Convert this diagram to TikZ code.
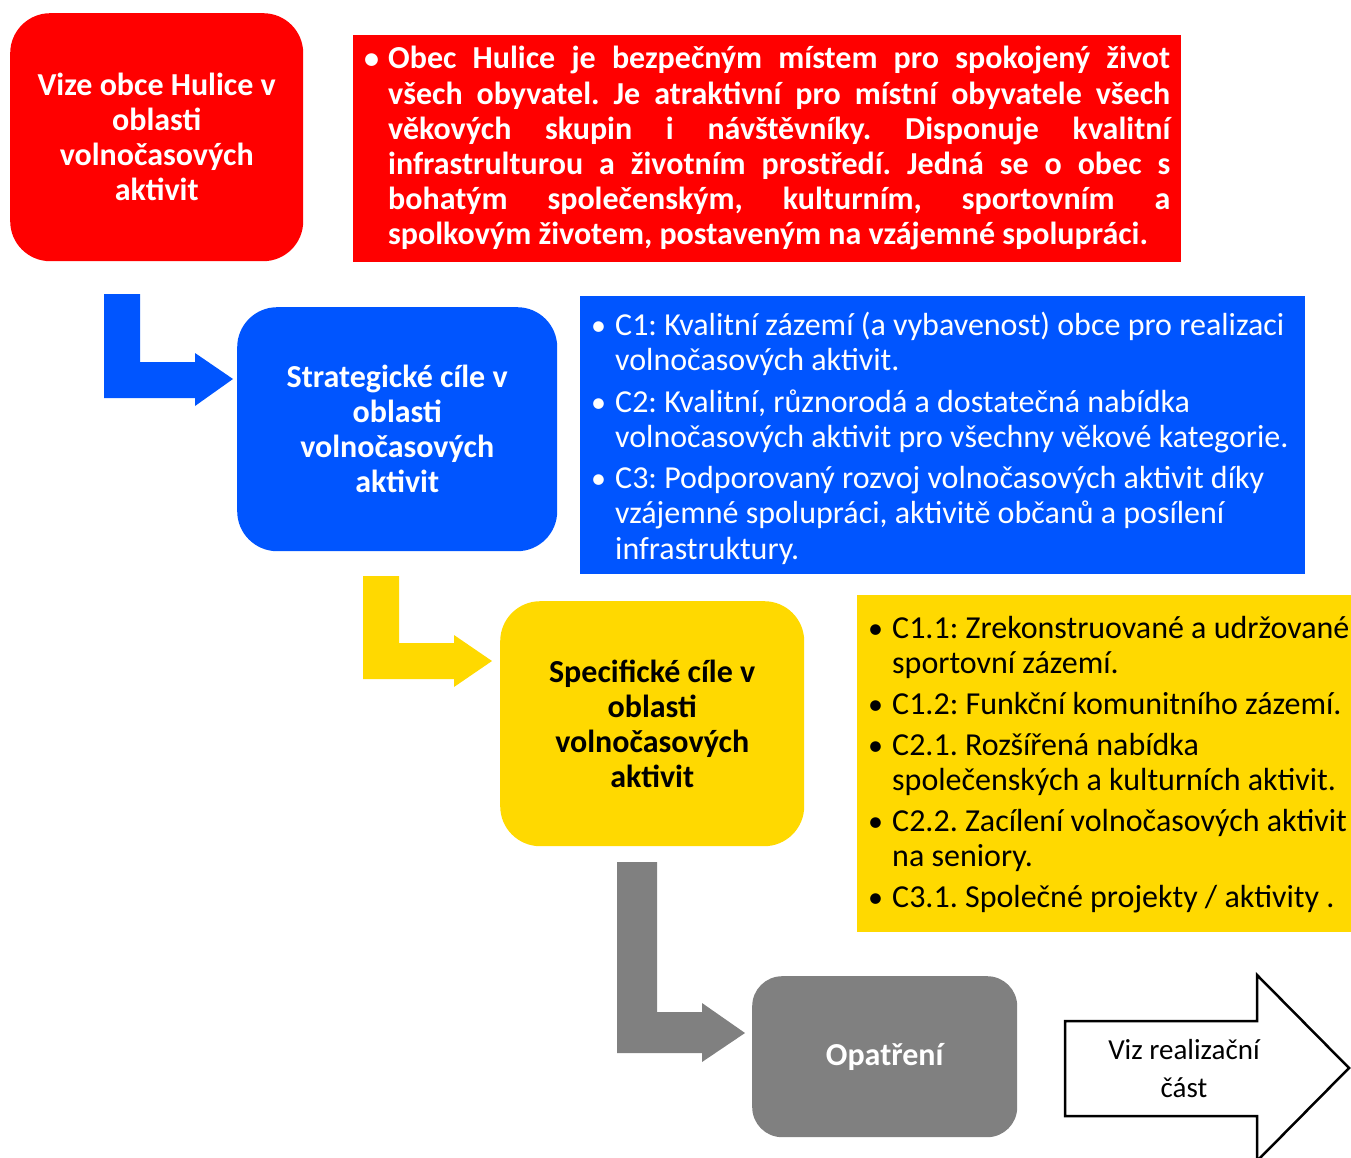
\documentclass[tikz,border=0pt]{standalone}
\usepackage{fontspec}
\setmainfont{Carlito}
\frenchspacing
\definecolor{vred}{RGB}{255,0,0}
\definecolor{vblue}{RGB}{0,85,255}
\definecolor{vyellow}{RGB}{255,217,0}
\definecolor{vgray}{RGB}{128,128,128}
\tikzset{
  rbox/.style={rounded corners=40pt, draw=none, anchor=north west, inner sep=0pt, align=center,
    font=\fontsize{32}{35}\selectfont\bfseries},
  flatbox/.style={draw=none, anchor=north west, inner sep=0pt},
  listtext/.style={anchor=base west, inner sep=0pt, font=\fontsize{32}{35.5}\selectfont},
  bulletmark/.style={anchor=base west, inner sep=0pt, font=\fontsize{30}{35}\selectfont},
  bentarrow/.style={draw=none}
}
\begin{document}
\begin{tikzpicture}[x=1pt,y=-1pt]
\useasboundingbox (0,0) rectangle (1351,1158);

% --- Vision row
\node[rbox, fill=vred, text=white, minimum width=293pt, minimum height=248pt] (vize) at (10,13)
  {Vize obce Hulice v\\oblasti\\volnočasových\\aktivit};
\node[flatbox, fill=vred, minimum width=828pt, minimum height=227pt] (vizebox) at (353,35) {};
\node[bulletmark, text=white, font=\fontsize{30}{35}\selectfont\bfseries] (vb) at (364,69) {•};
\node[anchor=base west, inner sep=0pt, text=white, font=\fontsize{32}{35.2}\selectfont\bfseries] (vizetext) at (388,69)
  {\parbox[t]{782pt}{%
   \makebox[782pt][s]{Obec Hulice je bezpečným místem pro spokojený život}\\
   \makebox[782pt][s]{všech obyvatel. Je atraktivní pro místní obyvatele všech}\\
   \makebox[782pt][s]{věkových skupin i návštěvníky. Disponuje kvalitní}\\
   \makebox[782pt][s]{infrastrulturou a životním prostředí. Jedná se o obec s}\\
   \makebox[782pt][s]{bohatým společenským, kulturním, sportovním a}\\
   spolkovým životem, postaveným na vzájemné spolupráci.}};

% --- Strategic row
\fill[vblue] (104,294) -- (140,294) -- (140,362) -- (195,362) -- (195,353) -- (233,379)
  -- (195,406) -- (195,398) -- (104,398) -- cycle;
\node[rbox, fill=vblue, text=white, minimum width=320pt, minimum height=244pt] (strat) at (237,307)
  {Strategické cíle v\\oblasti\\volnočasových\\aktivit};
\node[flatbox, fill=vblue, minimum width=725pt, minimum height=278pt] (stratbox) at (580,296) {};
\node[bulletmark, text=white] (sb1) at (591,335) {•};
\node[listtext, text=white] (s1) at (615,335)
  {\parbox[t]{700pt}{C1: Kvalitní zázemí (a vybavenost) obce pro realizaci\\volnočasových aktivit.}};
\node[bulletmark, text=white] (sb2) at (591,412) {•};
\node[listtext, text=white] (s2) at (615,412)
  {\parbox[t]{700pt}{C2: Kvalitní, různorodá a dostatečná nabídka\\volnočasových aktivit pro všechny věkové kategorie.}};
\node[bulletmark, text=white] (sb3) at (591,488) {•};
\node[listtext, text=white] (s3) at (615,488)
  {\parbox[t]{700pt}{C3: Podporovaný rozvoj volnočasových aktivit díky\\vzájemné spolupráci, aktivitě občanů a posílení\\infrastruktury.}};

% --- Specific row
\fill[vyellow] (363,576) -- (399,576) -- (399,643) -- (454,643) -- (454,635) -- (492,661)
  -- (454,687) -- (454,679) -- (363,679) -- cycle;
\node[rbox, fill=vyellow, text=black, minimum width=304pt, minimum height=245pt] (spec) at (500,601)
  {Specifické cíle v\\oblasti\\volnočasových\\aktivit};
\node[flatbox, fill=vyellow, minimum width=494pt, minimum height=337pt] (specbox) at (857,595) {};
\node[bulletmark] (yb1) at (868,638) {•};
\node[listtext] (y1) at (892,638)
  {\parbox[t]{470pt}{C1.1: Zrekonstruované a udržované\\sportovní zázemí.}};
\node[bulletmark] (yb2) at (868,714) {•};
\node[listtext] (y2) at (892,714) {C1.2: Funkční komunitního zázemí.};
\node[bulletmark] (yb3) at (868,755) {•};
\node[listtext] (y3) at (892,755)
  {\parbox[t]{470pt}{C2.1. Rozšířená nabídka\\společenských a kulturních aktivit.}};
\node[bulletmark] (yb4) at (868,831) {•};
\node[listtext] (y4) at (892,831)
  {\parbox[t]{470pt}{C2.2. Zacílení volnočasových aktivit\\na seniory.}};
\node[bulletmark] (yb5) at (868,907) {•};
\node[listtext] (y5) at (892,907) {C3.1. Společné projekty / aktivity .};

% --- Measures row
\fill[vgray] (617,862) -- (657,862) -- (657,1012) -- (702,1012) -- (702,1003) -- (745,1033)
  -- (702,1062) -- (702,1053) -- (617,1053) -- cycle;
\node[rbox, rounded corners=30pt, fill=vgray, text=white, minimum width=265pt, minimum height=161pt] (opat) at (752,976)
  {Opatření};
\draw[line width=2.5pt, fill=white, line join=miter] (1065,1021) -- (1257,1021) -- (1257,975) -- (1349,1068)
  -- (1257,1161) -- (1257,1116) -- (1065,1116) -- cycle;
\node[align=center, inner sep=0pt, font=\fontsize{29}{38}\selectfont] (viz) at (1184,1069)
  {Viz realizační\\část};
\end{tikzpicture}
\end{document}
